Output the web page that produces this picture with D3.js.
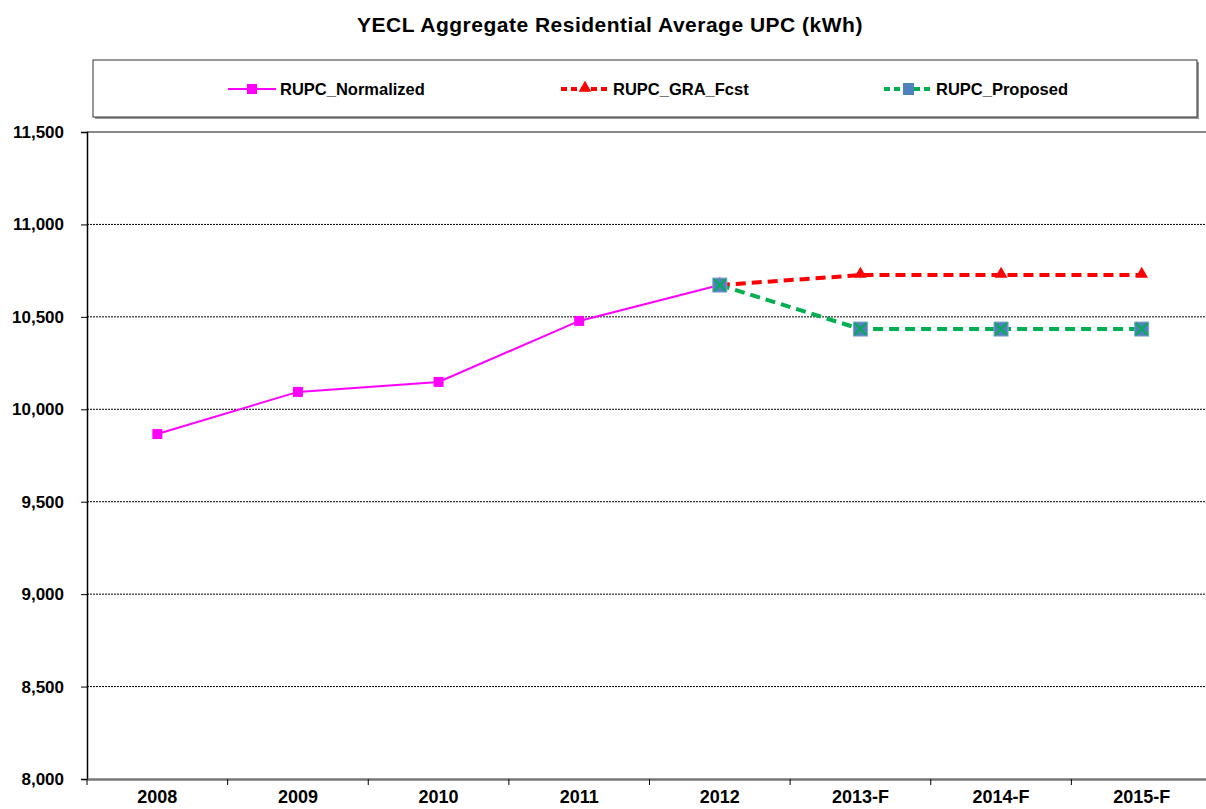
<!DOCTYPE html>
<html>
<head>
<meta charset="utf-8">
<script src="https://cdn.jsdelivr.net/npm/d3@7"></script>
<style>
  body { margin: 0; background: #fff; }
  svg { display: block; font-family: "Liberation Sans", Arial, sans-serif; }
</style>
</head>
<body>
<div id="chart"></div>
<script>
// data
var years = ["2008", "2009", "2010", "2011", "2012", "2013-F", "2014-F", "2015-F"];
var normalized = [9866, 10094, 10148, 10478, 10672, null, null, null];
var graFcst = [null, null, null, null, 10672, 10726, 10726, 10726];
var proposed = [null, null, null, null, 10672, 10434, 10434, 10434];
var yTicks = [8000, 8500, 9000, 9500, 10000, 10500, 11000, 11500];

var W = 1206, H = 809;
var margin = {top: 132, left: 87, bottom: 30};
var plotRight = 1212; // plot runs a little past the picture edge

var svg = d3.select("#chart")
  .append("svg")
    .attr("width", W)
    .attr("height", H);

var x = d3.scaleBand()
  .domain(years)
  .range([margin.left, plotRight]);

var y = d3.scaleLinear()
  .domain([8000, 11500])
  .range([H - margin.bottom, margin.top]);

// title
svg.append("text")
  .attr("x", 610).attr("y", 32)
  .attr("text-anchor", "middle")
  .attr("font-size", 21).attr("font-weight", "bold")
  .attr("letter-spacing", 0.5)
  .text("YECL Aggregate Residential Average UPC (kWh)");

// gridlines
svg.append("g")
  .selectAll("line")
  .data(yTicks.filter(d => d > 8000 && d < 11500))
  .enter().append("line")
    .attr("x1", margin.left).attr("x2", plotRight)
    .attr("y1", d => y(d)).attr("y2", d => y(d))
    .attr("stroke", "#000").attr("stroke-width", 1)
    .attr("stroke-dasharray", "2,1");

// top border of plot
svg.append("line")
  .attr("x1", margin.left).attr("x2", plotRight)
  .attr("y1", y(11500)).attr("y2", y(11500))
  .attr("stroke", "#888").attr("stroke-width", 2);

// y axis
var yAxis = svg.append("g")
  .attr("transform", "translate(" + margin.left + ",0)")
  .call(d3.axisLeft(y).tickValues(yTicks).tickSize(6).tickPadding(17).tickFormat(d3.format(",")));
yAxis.select(".domain").attr("stroke", "#000").attr("stroke-width", 1.5);
yAxis.selectAll("text")
  .attr("font-size", 17).attr("font-weight", "bold").attr("fill", "#000")
  .attr("font-family", "Liberation Sans, Arial, sans-serif");

// x axis
var xAxis = svg.append("g")
  .attr("transform", "translate(0," + y(8000) + ")")
  .call(d3.axisBottom(x).tickSize(0).tickPadding(11));
xAxis.select(".domain").attr("stroke", "#777").attr("stroke-width", 2.5);
xAxis.selectAll("text")
  .attr("font-size", 18).attr("font-weight", "bold").attr("fill", "#000")
  .attr("font-family", "Liberation Sans, Arial, sans-serif");
// tick marks between categories
svg.append("g")
  .selectAll("line")
  .data(years)
  .enter().append("line")
    .attr("x1", d => x(d)).attr("x2", d => x(d))
    .attr("y1", y(8000)).attr("y2", y(8000) + 6)
    .attr("stroke", "#000").attr("stroke-width", 1);

var cx = d => x(d.k) + x.bandwidth() / 2;
function pts(arr) {
  return years.map((k, i) => ({k: k, v: arr[i]})).filter(d => d.v != null);
}
var line = d3.line().x(cx).y(d => y(d.v));

// RUPC_Normalized
svg.append("path")
  .datum(pts(normalized))
  .attr("d", line)
  .attr("fill", "none").attr("stroke", "#FF00FF").attr("stroke-width", 2);
svg.append("g").selectAll("rect")
  .data(pts(normalized))
  .enter().append("rect")
    .attr("x", d => cx(d) - 5).attr("y", d => y(d.v) - 5)
    .attr("width", 10).attr("height", 10)
    .attr("fill", "#FF00FF");

// RUPC_GRA_Fcst
svg.append("path")
  .datum(pts(graFcst))
  .attr("d", line)
  .attr("fill", "none").attr("stroke", "#FF0000").attr("stroke-width", 4)
  .attr("stroke-dasharray", "10,6");
var tri = d3.symbol().type(d3.symbolTriangle).size(70);
svg.append("g").selectAll("path")
  .data(pts(graFcst))
  .enter().append("path")
    .attr("d", tri)
    .attr("transform", d => "translate(" + cx(d) + "," + (y(d.v) - 1) + ")")
    .attr("fill", "#FF0000");

// RUPC_Proposed
svg.append("path")
  .datum(pts(proposed))
  .attr("d", line)
  .attr("fill", "none").attr("stroke", "#00B050").attr("stroke-width", 4)
  .attr("stroke-dasharray", "10,6");
var pm = svg.append("g").selectAll("g")
  .data(pts(proposed))
  .enter().append("g")
    .attr("transform", d => "translate(" + cx(d) + "," + y(d.v) + ")");
pm.append("rect")
  .attr("x", -7).attr("y", -7).attr("width", 14).attr("height", 14)
  .attr("fill", "#4F81BD").attr("stroke", "#7FA3CF").attr("stroke-width", 1);
pm.append("path")
  .attr("d", "M-6,-6L6,6M-6,6L6,-6")
  .attr("stroke", "#00B050").attr("stroke-width", 2);

// legend box
var legend = svg.append("g");
legend.append("rect")
  .attr("x", 95).attr("y", 62).attr("width", 1104).attr("height", 57)
  .attr("fill", "#999");
legend.append("rect")
  .attr("x", 93).attr("y", 60).attr("width", 1104).attr("height", 57)
  .attr("fill", "#fff").attr("stroke", "#333").attr("stroke-width", 1);

var legendItems = [
  {name: "RUPC_Normalized", x: 228},
  {name: "RUPC_GRA_Fcst", x: 561},
  {name: "RUPC_Proposed", x: 884}
];
var ly = 89;
legendItems.forEach(function(it, i) {
  var g = legend.append("g");
  if (i === 0) {
    g.append("line").attr("x1", it.x).attr("x2", it.x + 48).attr("y1", ly).attr("y2", ly)
      .attr("stroke", "#FF00FF").attr("stroke-width", 2);
    g.append("rect").attr("x", it.x + 19).attr("y", ly - 5).attr("width", 10).attr("height", 10)
      .attr("fill", "#FF00FF");
  } else if (i === 1) {
    g.append("line").attr("x1", it.x).attr("x2", it.x + 48).attr("y1", ly).attr("y2", ly)
      .attr("stroke", "#FF0000").attr("stroke-width", 4).attr("stroke-dasharray", "6,4");
    g.append("path").attr("d", tri).attr("transform", "translate(" + (it.x + 24) + "," + (ly - 1) + ")")
      .attr("fill", "#FF0000");
  } else {
    g.append("line").attr("x1", it.x).attr("x2", it.x + 48).attr("y1", ly).attr("y2", ly)
      .attr("stroke", "#00B050").attr("stroke-width", 4).attr("stroke-dasharray", "6,4");
    g.append("rect").attr("x", it.x + 19).attr("y", ly - 6).attr("width", 11).attr("height", 12)
      .attr("fill", "#4F81BD");
  }
  g.append("text")
    .attr("x", it.x + 52).attr("y", ly + 6)
    .attr("font-size", 16.5).attr("font-weight", "bold")
    .text(it.name);
});
</script>
</body>
</html>
